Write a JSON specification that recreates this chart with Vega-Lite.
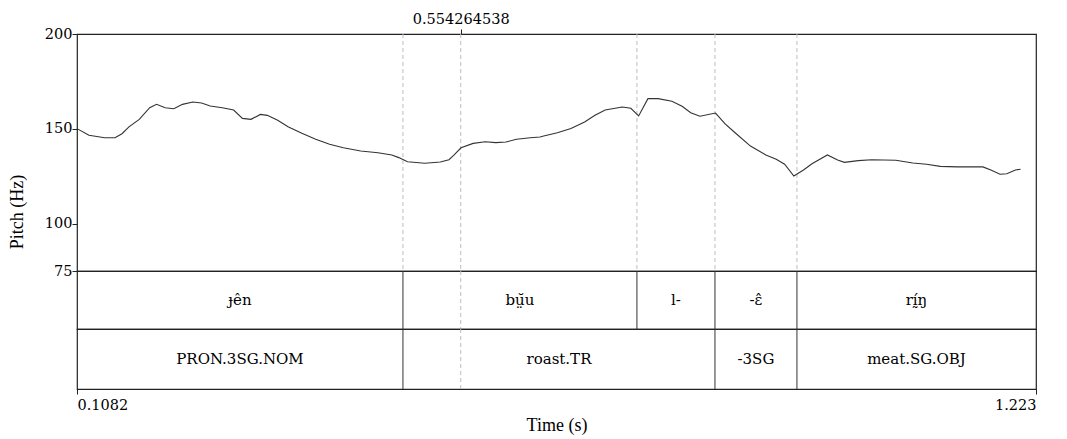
{
  "$schema": "https://vega.github.io/schema/vega-lite/v6.json",
  "background": "white",
  "padding": {"left": 7, "top": 10, "right": 5, "bottom": 5},
  "spacing": 0,
  "bounds": "flush",
  "config": {
    "font": "Liberation Serif",
    "view": {"stroke": "#222", "strokeWidth": 1.2},
    "axis": {
      "labelFont": "DejaVu Serif", "titleFont": "Liberation Serif",
      "labelFontSize": 14.5, "titleFontSize": 18,
      "labelColor": "#000", "titleColor": "#000", "titleFontWeight": "normal",
      "tickColor": "#222", "grid": false, "domain": false, "labelOverlap": false
    }
  },
  "datasets": {
    "pitch": [
      {"t": 0.1082, "f0": 150.1}, {"t": 0.1221, "f0": 146.6}, {"t": 0.1404, "f0": 145.3},
      {"t": 0.1524, "f0": 145.3}, {"t": 0.1605, "f0": 147.4}, {"t": 0.1686, "f0": 151.0},
      {"t": 0.1806, "f0": 155.0}, {"t": 0.1927, "f0": 161.1}, {"t": 0.2007, "f0": 162.9},
      {"t": 0.2107, "f0": 161.1}, {"t": 0.2208, "f0": 160.6}, {"t": 0.2308, "f0": 162.9},
      {"t": 0.2429, "f0": 164.1}, {"t": 0.2530, "f0": 163.6}, {"t": 0.2630, "f0": 162.0},
      {"t": 0.2771, "f0": 161.1}, {"t": 0.2903, "f0": 159.9}, {"t": 0.3005, "f0": 155.5},
      {"t": 0.3105, "f0": 155.0}, {"t": 0.3214, "f0": 157.6}, {"t": 0.3294, "f0": 157.1},
      {"t": 0.3415, "f0": 154.5}, {"t": 0.3535, "f0": 151.1}, {"t": 0.3696, "f0": 147.6},
      {"t": 0.3857, "f0": 144.5}, {"t": 0.4018, "f0": 141.8}, {"t": 0.4179, "f0": 140.0},
      {"t": 0.4380, "f0": 138.3}, {"t": 0.4581, "f0": 137.4}, {"t": 0.4742, "f0": 136.2},
      {"t": 0.4823, "f0": 134.8}, {"t": 0.4924, "f0": 132.6}, {"t": 0.5125, "f0": 131.8},
      {"t": 0.5305, "f0": 132.5}, {"t": 0.5406, "f0": 133.7}, {"t": 0.5466, "f0": 136.2},
      {"t": 0.5546, "f0": 140.0}, {"t": 0.5687, "f0": 142.3}, {"t": 0.5828, "f0": 143.2},
      {"t": 0.5949, "f0": 142.7}, {"t": 0.6069, "f0": 143.0}, {"t": 0.6190, "f0": 144.5},
      {"t": 0.6351, "f0": 145.3}, {"t": 0.6464, "f0": 145.7}, {"t": 0.6507, "f0": 146.2},
      {"t": 0.6666, "f0": 147.9}, {"t": 0.6824, "f0": 150.1}, {"t": 0.6983, "f0": 153.6},
      {"t": 0.7103, "f0": 157.1}, {"t": 0.7222, "f0": 159.9}, {"t": 0.7420, "f0": 161.5},
      {"t": 0.7520, "f0": 160.8}, {"t": 0.7611, "f0": 156.8}, {"t": 0.7719, "f0": 165.9},
      {"t": 0.7838, "f0": 165.9}, {"t": 0.7997, "f0": 164.5}, {"t": 0.8116, "f0": 161.9},
      {"t": 0.8216, "f0": 158.5}, {"t": 0.8323, "f0": 156.6}, {"t": 0.8505, "f0": 158.3},
      {"t": 0.8613, "f0": 152.7}, {"t": 0.8732, "f0": 147.9}, {"t": 0.8911, "f0": 140.9},
      {"t": 0.9090, "f0": 136.2}, {"t": 0.9210, "f0": 133.9}, {"t": 0.9308, "f0": 131.3},
      {"t": 0.9415, "f0": 125.1}, {"t": 0.9527, "f0": 128.3}, {"t": 0.9626, "f0": 131.6},
      {"t": 0.9805, "f0": 136.2}, {"t": 0.9924, "f0": 133.5}, {"t": 1.0003, "f0": 132.3},
      {"t": 1.0163, "f0": 133.2}, {"t": 1.0322, "f0": 133.7}, {"t": 1.0600, "f0": 133.4},
      {"t": 1.0798, "f0": 132.0}, {"t": 1.0958, "f0": 131.3}, {"t": 1.1117, "f0": 130.2},
      {"t": 1.1316, "f0": 129.9}, {"t": 1.1613, "f0": 129.9}, {"t": 1.1712, "f0": 128.1},
      {"t": 1.1812, "f0": 126.0}, {"t": 1.1891, "f0": 126.3}, {"t": 1.1991, "f0": 128.3},
      {"t": 1.2050, "f0": 128.7}
    ],
    "bounds": [
      {"t": 0.4871}, {"t": 0.554264538}, {"t": 0.7591}, {"t": 0.8498}, {"t": 0.9451}
    ],
    "cursor": [
      {"t": 0.554264538}
    ],
    "tier1": [
      {"start": 0.1082, "end": 0.4871, "label": "ɟên"},
      {"start": 0.4871, "end": 0.7591, "label": "bṳ̆u"},
      {"start": 0.7591, "end": 0.8498, "label": "l-"},
      {"start": 0.8498, "end": 0.9451, "label": "-ɛ̂"},
      {"start": 0.9451, "end": 1.223, "label": "rḭ́ŋ"}
    ],
    "tier2": [
      {"start": 0.1082, "end": 0.4871, "label": "PRON.3SG.NOM"},
      {"start": 0.4871, "end": 0.8498, "label": "roast.TR"},
      {"start": 0.8498, "end": 0.9451, "label": "-3SG"},
      {"start": 0.9451, "end": 1.223, "label": "meat.SG.OBJ"}
    ]
  },
  "vconcat": [
    {
      "width": 959,
      "height": 237,
      "encoding": {
        "x": {
          "field": "t", "type": "quantitative",
          "scale": {"domain": [0.1082, 1.223], "nice": false, "zero": false},
          "axis": {"orient": "top", "values": [0.554264538], "format": ".9f", "tickSize": 5, "labelPadding": 3, "title": null}
        }
      },
      "layer": [
        {
          "data": {"name": "bounds"},
          "mark": {"type": "rule", "color": "#bdbdbd", "strokeDash": [4, 3], "strokeWidth": 1}
        },
        {
          "data": {"name": "pitch"},
          "mark": {"type": "line", "color": "#333", "strokeWidth": 1.1},
          "encoding": {
            "y": {
              "field": "f0", "type": "quantitative",
              "scale": {"domain": [75, 200], "nice": false, "zero": false},
              "axis": {"values": [75, 100, 150, 200], "tickSize": 5, "labelPadding": 0, "title": "Pitch (Hz)", "titlePadding": 18, "titleY": 177.5}
            }
          }
        }
      ]
    },
    {
      "width": 959,
      "height": 58,
      "data": {"name": "tier1"},
      "layer": [
        {
          "data": {"name": "cursor"},
          "mark": {"type": "rule", "color": "#bdbdbd", "strokeDash": [4, 3], "strokeWidth": 1},
          "encoding": {
            "x": {"field": "t", "type": "quantitative", "scale": {"domain": [0.1082, 1.223], "nice": false, "zero": false}, "axis": null}
          }
        },
        {
          "transform": [{"filter": "datum.start > 0.2"}],
          "mark": {"type": "rule", "color": "#333", "strokeWidth": 1},
          "encoding": {
            "x": {"field": "start", "type": "quantitative", "scale": {"domain": [0.1082, 1.223], "nice": false, "zero": false}, "axis": null}
          }
        },
        {
          "transform": [{"calculate": "(datum.start + datum.end) / 2", "as": "mid"}],
          "mark": {"type": "text", "fontSize": 15, "color": "#000", "baseline": "middle", "font": "DejaVu Serif"},
          "encoding": {
            "x": {"field": "mid", "type": "quantitative", "scale": {"domain": [0.1082, 1.223], "nice": false, "zero": false}, "axis": null},
            "text": {"field": "label"}
          }
        }
      ]
    },
    {
      "width": 959,
      "height": 60,
      "data": {"name": "tier2"},
      "layer": [
        {
          "data": {"name": "cursor"},
          "mark": {"type": "rule", "color": "#bdbdbd", "strokeDash": [4, 3], "strokeWidth": 1},
          "encoding": {
            "x": {
              "field": "t", "type": "quantitative",
              "scale": {"domain": [0.1082, 1.223], "nice": false, "zero": false},
              "axis": {"orient": "bottom", "values": [0.1082, 1.223], "labelExpr": "datum.value < 0.5 ? '0.1082' : '1.223'", "tickSize": 5, "labelPadding": 4, "title": "Time (s)", "titlePadding": 5}
            }
          }
        },
        {
          "transform": [{"filter": "datum.start > 0.2"}],
          "mark": {"type": "rule", "color": "#333", "strokeWidth": 1},
          "encoding": {
            "x": {"field": "start", "type": "quantitative"}
          }
        },
        {
          "transform": [{"calculate": "(datum.start + datum.end) / 2", "as": "mid"}],
          "mark": {"type": "text", "fontSize": 15, "color": "#000", "baseline": "middle", "font": "DejaVu Serif"},
          "encoding": {
            "x": {"field": "mid", "type": "quantitative"},
            "text": {"field": "label"}
          }
        }
      ]
    }
  ]
}
